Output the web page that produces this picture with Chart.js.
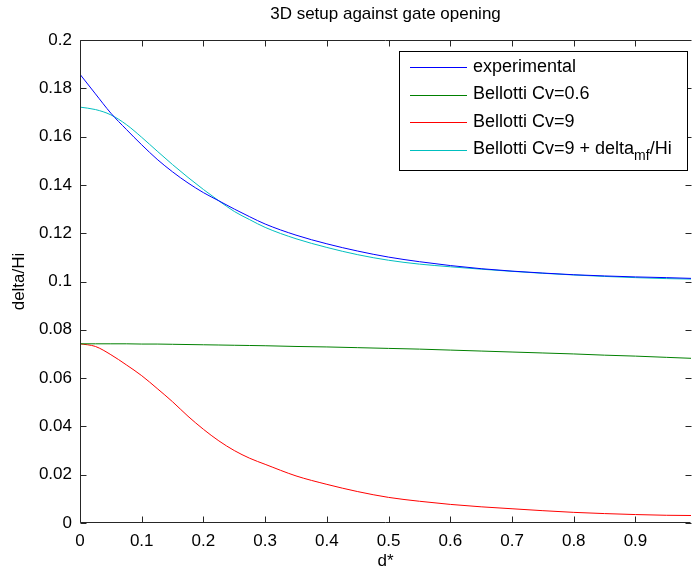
<!DOCTYPE html>
<html>
<head>
<meta charset="utf-8">
<script src="https://cdn.jsdelivr.net/npm/chart.js@4/dist/chart.umd.min.js"></script>
<style>
  html, body { margin: 0; padding: 0; background: #fff; overflow: hidden; }
  #wrap { width: 692px; height: 572px; }
</style>
</head>
<body>
<div id="wrap"><canvas id="c" width="692" height="572"></canvas></div>
<script>
// Gate opening d* and the relative setup delta/Hi for each series
const dStar = [0, 0.025, 0.05, 0.075, 0.1, 0.125, 0.15, 0.175, 0.2, 0.225, 0.25, 0.275, 0.3,
  0.35, 0.4, 0.45, 0.5, 0.55, 0.6, 0.65, 0.7, 0.75, 0.8, 0.85, 0.9, 0.95, 0.99];

const experimental = [0.1858, 0.1777, 0.1697, 0.1630, 0.1566, 0.1506, 0.1454, 0.1408, 0.1368, 0.1334,
  0.1300, 0.1268, 0.1238, 0.1192, 0.1156, 0.1126, 0.1101, 0.1082, 0.1066, 0.1053, 0.1043, 0.1035,
  0.1028, 0.1023, 0.1019, 0.1016, 0.1013];

const bellottiCv06 = [0.0742, 0.0742, 0.0742, 0.0742, 0.0741, 0.0741, 0.0740, 0.0739, 0.0738, 0.0737,
  0.0736, 0.0735, 0.0734, 0.0731, 0.0729, 0.0726, 0.0723, 0.0720, 0.0716, 0.0712, 0.0708, 0.0704,
  0.0700, 0.0695, 0.0691, 0.0686, 0.0682];

const bellottiCv9 = [0.0742, 0.0731, 0.0697, 0.0655, 0.0610, 0.0557, 0.0502, 0.0442, 0.0388, 0.0340,
  0.0300, 0.0268, 0.0243, 0.0195, 0.0160, 0.0130, 0.0106, 0.0090, 0.0077, 0.0067, 0.0059, 0.0051,
  0.0044, 0.0039, 0.0035, 0.0032, 0.0031];

const bellottiCv9Mf = [0.1722, 0.1712, 0.1690, 0.1650, 0.1597, 0.1540, 0.1484, 0.1431, 0.1381, 0.1334,
  0.1290, 0.1256, 0.1224, 0.1177, 0.1141, 0.1111, 0.1088, 0.1072, 0.1061, 0.1051, 0.1042, 0.1034,
  0.1027, 0.1021, 0.1016, 0.1012, 0.1010];

const xTicks = [0, 0.1, 0.2, 0.3, 0.4, 0.5, 0.6, 0.7, 0.8, 0.9];
const yTicks = [0, 0.02, 0.04, 0.06, 0.08, 0.1, 0.12, 0.14, 0.16, 0.18, 0.2];

const titleText = '3D setup against gate opening';
const xTitle = 'd*';
const yTitle = 'delta/Hi';

const seriesNames = ['experimental', 'Bellotti Cv=0.6', 'Bellotti Cv=9', 'Bellotti Cv=9 + delta'];
const seriesColors = ['#0000ff', '#008000', '#ff0000', '#00bfbf'];
const seriesValues = [experimental, bellottiCv06, bellottiCv9, bellottiCv9Mf];

const FONT = 'Liberation Sans, Arial, sans-serif';
const FONT_SIZE = 17;
const LEGEND_SIZE = 18;
const INK = '#262626';

const toPoints = vals => dStar.map((x, i) => ({ x: x, y: vals[i] }));

// MATLAB-like box: frame with inward tick marks, title, x label and legend
const axesBox = {
  id: 'axesBox',
  afterDraw(chart) {
    const ctx = chart.ctx;
    const a = chart.chartArea;
    const xs = chart.scales.x, ys = chart.scales.y;
    const L = Math.round(a.left) + 0.5, T = Math.round(a.top) + 0.5;
    const B = Math.round(a.bottom) - 0.5, R = Math.round(a.right) - 0.5;
    const tl = 6;
    ctx.save();
    ctx.strokeStyle = INK;
    ctx.lineWidth = 1;
    ctx.beginPath();
    ctx.moveTo(R, T); ctx.lineTo(L, T); ctx.lineTo(L, B); ctx.lineTo(R, B);
    xTicks.forEach(v => {
      const px = Math.round(xs.getPixelForValue(v)) + 0.5;
      ctx.moveTo(px, B); ctx.lineTo(px, B - tl);
      ctx.moveTo(px, T); ctx.lineTo(px, T + tl);
    });
    yTicks.forEach(v => {
      const py = Math.round(ys.getPixelForValue(v)) + 0.5;
      ctx.moveTo(L, py); ctx.lineTo(L + tl, py);
      ctx.moveTo(R + 1, py); ctx.lineTo(R + 1 - tl, py);
    });
    ctx.stroke();

    // title and x label
    ctx.fillStyle = '#000';
    ctx.font = FONT_SIZE + 'px ' + FONT;
    ctx.textAlign = 'center';
    ctx.textBaseline = 'middle';
    ctx.fillText(titleText, (a.left + a.right) / 2, 14);
    ctx.fillText(xTitle, (a.left + a.right) / 2, 561);

    // legend
    const bx = 399.5, by = 51.5, bw = 288, bh = 119;
    ctx.fillStyle = '#fff';
    ctx.fillRect(bx, by, bw, bh);
    ctx.strokeStyle = '#000';
    ctx.strokeRect(bx, by, bw, bh);
    const rows = [67, 94.5, 122, 149.5];
    ctx.textAlign = 'left';
    ctx.textBaseline = 'middle';
    seriesNames.forEach((name, i) => {
      const y = rows[i];
      ctx.strokeStyle = seriesColors[i];
      ctx.beginPath();
      ctx.moveTo(410, Math.round(y) + 0.5);
      ctx.lineTo(467, Math.round(y) + 0.5);
      ctx.stroke();
      ctx.fillStyle = '#000';
      ctx.font = LEGEND_SIZE + 'px ' + FONT;
      ctx.fillText(name, 473, y);
      if (i === 3) {
        let x = 473 + ctx.measureText(name).width;
        ctx.font = '14px ' + FONT;
        ctx.fillText('mf', x, y + 7);
        x += ctx.measureText('mf').width;
        ctx.font = LEGEND_SIZE + 'px ' + FONT;
        ctx.fillText('/Hi', x, y);
      }
    });
    ctx.restore();
  }
};

new Chart(document.getElementById('c'), {
  type: 'line',
  data: {
    datasets: seriesValues.map((vals, i) => ({
      label: seriesNames[i],
      data: toPoints(vals),
      borderColor: seriesColors[i],
      backgroundColor: seriesColors[i],
      borderWidth: 1,
      pointRadius: 0,
      fill: false,
      cubicInterpolationMode: 'monotone'
    }))
  },
  options: {
    responsive: false,
    animation: false,
    devicePixelRatio: 1,
    layout: { padding: { left: 0, top: 40, right: 1, bottom: 0 } },
    plugins: { legend: { display: false }, title: { display: false }, tooltip: { enabled: false } },
    scales: {
      x: {
        type: 'linear',
        min: 0,
        max: 0.99,
        afterBuildTicks: s => { s.ticks = xTicks.map(v => ({ value: v })); },
        afterFit: s => { s.height = 49; },
        grid: { display: false, drawTicks: false },
        border: { display: false },
        ticks: {
          color: '#000',
          font: { family: FONT, size: FONT_SIZE },
          padding: 8,
          maxRotation: 0,
          autoSkip: false,
          callback: v => String(v)
        }
      },
      y: {
        type: 'linear',
        min: 0,
        max: 0.2,
        afterBuildTicks: s => { s.ticks = yTicks.map(v => ({ value: v })); },
        afterFit: s => { s.width = 80; },
        grid: { display: false, drawTicks: false },
        border: { display: false },
        ticks: {
          color: '#000',
          font: { family: FONT, size: FONT_SIZE },
          padding: 8,
          autoSkip: false,
          callback: v => String(v)
        },
        title: {
          display: true,
          text: yTitle,
          color: '#000',
          font: { family: FONT, size: FONT_SIZE },
          padding: { top: 9, bottom: 0 }
        }
      }
    }
  },
  plugins: [axesBox]
});
</script>
</body>
</html>
